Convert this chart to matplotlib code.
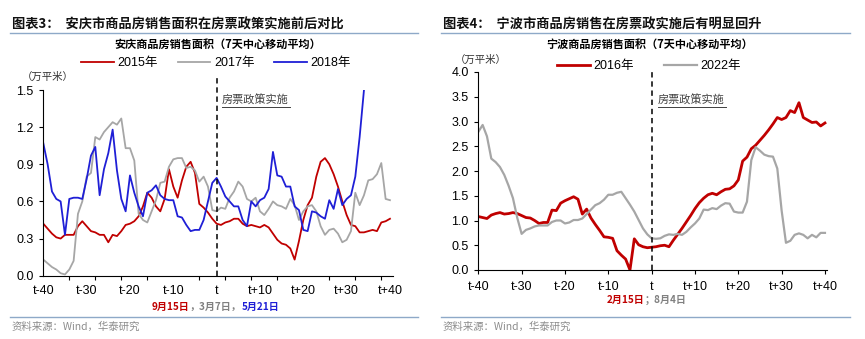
import numpy as np
import matplotlib
matplotlib.use('Agg')
import matplotlib.pyplot as plt
from matplotlib.text import Annotation
from matplotlib.ticker import MultipleLocator, FixedLocator, FormatStrFormatter

plt.rcParams['font.family'] = ['Liberation Sans', 'Noto Sans CJK SC']
plt.rcParams['axes.unicode_minus'] = False

# 安庆：以房票政策实施日为 t，前后各 40 天
days_aq = np.arange(-40, 41)
aq_2015 = [0.42, 0.38, 0.34, 0.31, 0.30, 0.33, 0.33, 0.33, 0.40, 0.44,
           0.40, 0.36, 0.35, 0.33, 0.33, 0.27, 0.33, 0.32, 0.36, 0.41,
           0.42, 0.44, 0.48, 0.56, 0.67, 0.63, 0.56, 0.52, 0.62, 0.86,
           0.72, 0.63, 0.77, 0.88, 0.92, 0.83, 0.58, 0.55, 0.51, 0.46,
           0.42,
           0.41, 0.43, 0.44, 0.46, 0.46, 0.42, 0.40, 0.41, 0.40, 0.39,
           0.41, 0.39, 0.34, 0.29, 0.26, 0.25, 0.22, 0.13, 0.28, 0.45,
           0.57, 0.63, 0.80, 0.92, 0.95, 0.90, 0.82, 0.72, 0.60, 0.49,
           0.41, 0.40, 0.35, 0.35, 0.36, 0.37, 0.36, 0.43, 0.44, 0.46]
aq_2017 = [0.13, 0.10, 0.07, 0.05, 0.02, 0.01, 0.05, 0.12, 0.50, 0.60,
           0.80, 0.83, 1.12, 1.10, 1.16, 1.20, 1.24, 1.22, 1.27, 1.03,
           1.03, 0.93, 0.50, 0.45, 0.43, 0.52, 0.61, 0.75, 0.76, 0.88,
           0.94, 0.95, 0.95, 0.87, 0.88, 0.85, 0.76, 0.80, 0.72, 0.53,
           0.52,
           0.55, 0.54, 0.63, 0.68, 0.76, 0.72, 0.62, 0.60, 0.63, 0.52,
           0.49, 0.54, 0.60, 0.57, 0.56, 0.54, 0.62, 0.57, 0.45, 0.52,
           0.56, 0.57, 0.52, 0.40, 0.33, 0.37, 0.38, 0.34, 0.27, 0.29,
           0.36, 0.67, 0.57, 0.65, 0.77, 0.78, 0.82, 0.91, 0.62, 0.61]
# 2018 年数据只到 t+34
aq_2018 = [1.07, 0.90, 0.68, 0.62, 0.60, 0.33, 0.62, 0.63, 0.63, 0.62,
           0.78, 0.97, 1.04, 0.65, 0.86, 0.99, 1.18, 0.85, 0.62, 0.52,
           0.81, 0.67, 0.56, 0.48, 0.67, 0.69, 0.73, 0.65, 0.62, 0.61,
           0.61, 0.48, 0.47, 0.41, 0.36, 0.37, 0.37, 0.45, 0.60, 0.75,
           0.79,
           0.72, 0.64, 0.60, 0.56, 0.56, 0.45, 0.40, 0.60, 0.56, 0.61,
           0.63, 0.70, 1.00, 0.81, 0.80, 0.72, 0.72, 0.56, 0.53, 0.37,
           0.36, 0.52, 0.51, 0.48, 0.46, 0.61, 0.54, 0.70, 0.57, 0.62,
           0.65, 0.80, 1.12, 1.50]

# 宁波
days_nb = np.arange(-40, 41)
nb_2016 = [1.08, 1.06, 1.04, 1.11, 1.14, 1.16, 1.13, 1.14, 1.16, 1.14,
           1.10, 1.06, 1.05, 1.00, 0.94, 0.96, 0.96, 1.21, 1.20, 1.35,
           1.40, 1.44, 1.48, 1.43, 1.13, 1.23, 1.05, 0.92, 0.80, 0.67,
           0.66, 0.64, 0.39, 0.30, 0.22, 0.00, 0.63, 0.51, 0.47, 0.45,
           0.46,
           0.47, 0.49, 0.50, 0.47, 0.60, 0.72, 0.84, 0.97, 1.10, 1.24,
           1.36, 1.45, 1.52, 1.55, 1.52, 1.58, 1.63, 1.64, 1.70, 1.82,
           2.20, 2.28, 2.45, 2.52, 2.62, 2.72, 2.83, 2.95, 3.08, 3.04,
           3.08, 3.22, 3.18, 3.38, 3.08, 3.03, 2.98, 2.99, 2.91, 2.97]
nb_2022 = [2.79, 2.93, 2.70, 2.25, 2.18, 2.08, 1.92, 1.70, 1.45, 1.05,
           0.73, 0.81, 0.84, 0.88, 0.90, 0.90, 0.90, 0.97, 1.00, 1.00,
           0.94, 0.96, 1.01, 1.01, 1.04, 1.13, 1.22, 1.31, 1.35, 1.42,
           1.52, 1.52, 1.56, 1.58, 1.45, 1.32, 1.18, 1.01, 0.84, 0.72,
           0.64,
           0.63, 0.64, 0.69, 0.72, 0.71, 0.73, 0.71, 0.77, 0.86, 0.94,
           1.04, 1.22, 1.21, 1.25, 1.23, 1.30, 1.35, 1.34, 1.18, 1.16,
           1.16, 1.38, 2.22, 2.48, 2.41, 2.33, 2.30, 2.29, 2.05, 1.20,
           0.55, 0.59, 0.71, 0.74, 0.71, 0.64, 0.71, 0.66, 0.75, 0.75]

tick_pos = np.arange(-40, 41, 10)
tick_labels = ['t-40', 't-30', 't-20', 't-10', 't', 't+10', 't+20', 't+30', 't+40']

# 各年份对应的政策日期
dates_aq = [('9月15日', '#C00000'), ('，3月7日，', '#808080'), ('5月21日', '#1F1FD6')]
dates_nb = [('2月15日', '#C00000'), ('；8月4日', '#808080')]

RED = '#C00000'
GRAY = '#A6A6A6'
BLUE = '#1F1FD6'
RULE = '#8EA9C8'
CJK = ['Noto Sans CJK SC', 'DejaVu Sans']
W, H = 865, 339


def fx(px):
    return px / W


def fy(py):
    return 1 - py / H


def style_axis(ax):
    """坐标轴统一样式：只保留左、下轴线"""
    for side in ['top', 'right']:
        ax.spines[side].set_visible(False)
    for side in ['left', 'bottom']:
        ax.spines[side].set_linewidth(0.8)
        ax.spines[side].set_color('black')
    ax.set_xticks(tick_pos)
    ax.set_xticklabels(tick_labels)
    ax.yaxis.set_major_formatter(FormatStrFormatter('%.1f'))
    ax.tick_params(axis='both', labelsize=9, width=0.8, length=3, direction='out')
    ax.tick_params(axis='y', pad=4)


def policy_note(x, y):
    """“房票政策实施”文字加下划线"""
    fig.text(fx(x), fy(y), '房票政策实施', fontsize=8, family=CJK, style='italic',
             color='#404040', ha='left', va='center')
    fig.add_artist(plt.Line2D([fx(x), fx(x + 68)], [fy(y + 7)] * 2,
                              color='#404040', lw=0.7))


fig = plt.figure(figsize=(8.65, 3.39), dpi=100)

# ---------- 图表3：安庆 ----------
ax1 = fig.add_axes([fx(43.3), fy(275.7), 349.7 / W, 185.7 / H])
ax1.plot(days_aq, aq_2015, color=RED, lw=1.3, label='2015年')
ax1.plot(days_aq, aq_2017, color=GRAY, lw=1.3, label='2017年')
ax1.plot(days_aq[:len(aq_2018)], aq_2018, color=BLUE, lw=1.3, label='2018年')
ax1.set_xlim(-40, 40.7)
ax1.set_ylim(0, 1.5)
ax1.yaxis.set_major_locator(MultipleLocator(0.3))
style_axis(ax1)
ax1.tick_params(axis='x', length=0, pad=7)
ax1.xaxis.set_minor_locator(FixedLocator(np.arange(-40, 41, 6)))
ax1.tick_params(axis='x', which='minor', length=3, width=0.8)
ax1.axvline(0, ymin=0, ymax=1.075, color='black', lw=1.1, ls=(0, (3.5, 2.5)),
            clip_on=False, zorder=5)
ax1.legend(loc='center', bbox_to_anchor=(fx(216), fy(63)), bbox_transform=fig.transFigure,
           ncol=3, frameon=False, fontsize=9, handlelength=2.6, columnspacing=1.6,
           handletextpad=0.3)

# ---------- 图表4：宁波 ----------
ax2 = fig.add_axes([fx(478.3), fy(270), 348.4 / W, 198 / H])
ax2.plot(days_nb, nb_2016, color=RED, lw=2.0, label='2016年')
ax2.plot(days_nb, nb_2022, color=GRAY, lw=1.6, label='2022年')
ax2.set_xlim(-40, 40.4)
ax2.set_ylim(0, 4.0)
ax2.yaxis.set_major_locator(MultipleLocator(0.5))
style_axis(ax2)
ax2.tick_params(axis='x', pad=5)
ax2.axvline(0, ymin=0, ymax=1.0, color='black', lw=1.1, ls=(0, (3.5, 2.5)),
            clip_on=False, zorder=5)
ax2.legend(loc='center', bbox_to_anchor=(fx(649), fy(66)), bbox_transform=fig.transFigure,
           ncol=2, frameon=False, fontsize=9, handlelength=2.6, columnspacing=2.4,
           handletextpad=0.3)

policy_note(222, 100)
policy_note(658, 100)

# 标题、副标题、单位
fig.text(fx(12), fy(25), '图表3：  安庆市商品房销售面积在房票政策实施前后对比',
         family=CJK, fontsize=9.5, weight='bold', va='center', color='#111111')
fig.text(fx(443), fy(25), '图表4：  宁波市商品房销售在房票政实施后有明显回升',
         family=CJK, fontsize=9.5, weight='bold', va='center', color='#111111')
fig.text(fx(218), fy(44), '安庆商品房销售面积（7天中心移动平均）',
         family=CJK, fontsize=8, weight='bold', ha='center', va='center')
fig.text(fx(650), fy(44), '宁波商品房销售面积（7天中心移动平均）',
         family=CJK, fontsize=8, weight='bold', ha='center', va='center')
fig.text(fx(22), fy(77), '（万平米）', family=CJK, fontsize=7.5,
         va='center', color='#333333')
fig.text(fx(455), fy(60), '（万平米）', family=CJK, fontsize=7.5,
         va='center', color='#333333')

# 日期说明：逐段接在前一段之后
for x, y, parts in [(152, 307, dates_aq), (607, 300, dates_nb)]:
    prev = fig.text(fx(x), fy(y), parts[0][0], family=CJK, fontsize=7.2,
                    weight='bold', color=parts[0][1], va='center')
    for s, c in parts[1:]:
        prev = fig.add_artist(Annotation(
            s, xy=(1, 0.5), xycoords=prev, va='center', ha='left',
            family=CJK, fontsize=7.2, weight='bold', color=c))

# 分隔线与资料来源
for x0, x1 in [(10, 418), (441, 850)]:
    fig.add_artist(plt.Line2D([fx(x0), fx(x1)], [fy(33)] * 2, color=RULE, lw=1.0))
    fig.add_artist(plt.Line2D([fx(x0), fx(x1)], [fy(317)] * 2, color=RULE, lw=1.0))
    fig.text(fx(x0 + 2), fy(327), '资料来源：Wind，华泰研究', family=CJK,
             fontsize=7.5, color='#8C8C8C', va='center')

fig.savefig('out.png', dpi=100)
